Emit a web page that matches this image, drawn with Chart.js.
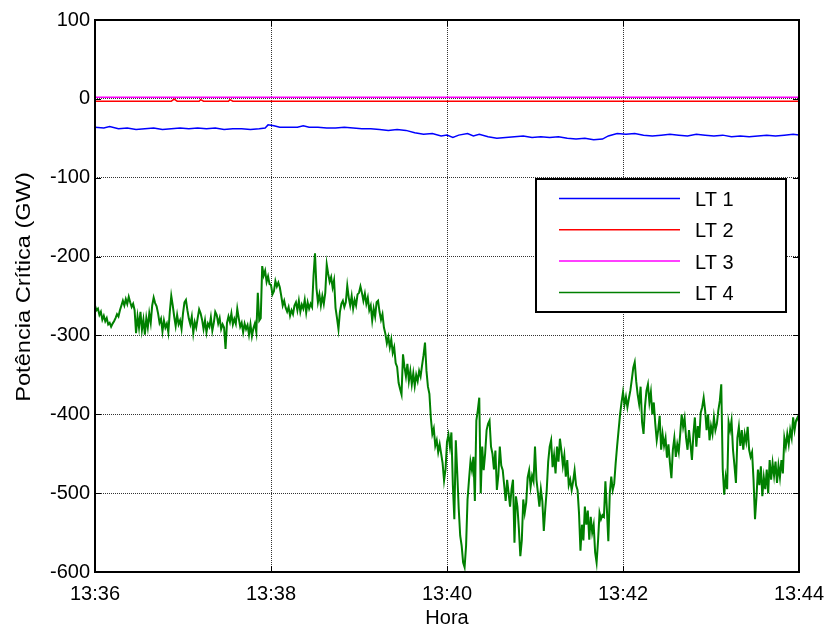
<!DOCTYPE html>
<html>
<head>
<meta charset="utf-8">
<script src="https://cdn.jsdelivr.net/npm/chart.js@4.4.1/dist/chart.umd.min.js"></script>
<style>
  html, body { margin: 0; padding: 0; background: #fff; }
  #wrap { width: 827px; height: 630px; }
</style>
</head>
<body>
<div id="wrap"><canvas id="chart" width="827" height="630"></canvas></div>
<script>
// time axis in seconds after 13:36
const tickLabels = ["13:36", "13:38", "13:40", "13:42", "13:44"];
const seriesNames = ["LT 1", "LT 2", "LT 3", "LT 4"];
const seriesColors = ["#0000ff", "#ff0000", "#ff00ff", "#008000"];

const lt1Time = [0, 6, 10, 16, 22, 28, 34, 40, 46, 52, 58, 64, 70, 76, 82, 88, 94, 100, 106, 112, 116, 118, 122, 126, 132, 138, 142, 146, 152, 158, 164, 170, 176, 182, 188, 194, 200, 206, 212, 218, 224, 230, 236, 240, 244, 248, 254, 258, 262, 268, 274, 280, 286, 292, 298, 304, 310, 316, 322, 328, 334, 340, 346, 350, 356, 362, 368, 374, 380, 386, 392, 398, 404, 410, 416, 422, 428, 434, 440, 446, 452, 458, 464, 470, 476, 480];
const lt1Val = [-36, -37, -35, -38, -37, -39, -38, -37, -39, -38, -37, -38, -37, -38, -37, -39, -38, -38, -39, -38, -37, -33, -34, -36, -36, -36, -34, -36, -36, -37, -37, -36, -37, -38, -38, -39, -40, -39, -40, -43, -45, -44, -47, -46, -49, -46, -44, -47, -45, -48, -50, -49, -48, -47, -49, -48, -49, -48, -50, -51, -50, -52, -51, -47, -44, -45, -44, -46, -47, -46, -45, -46, -47, -45, -46, -47, -46, -48, -47, -48, -47, -46, -47, -46, -45, -46];

const lt2Time = [0, 52, 54, 56, 71, 72, 74, 91, 92, 94, 480];
const lt2Val = [-3, -3, -0.5, -3, -3, -1, -3, -3, -1, -3, -3];

const lt3Time = [0, 480];
const lt3Val = [2, 2];

// LT 4, one value per second from 13:36:00 to 13:44:00
const lt4Val = [
  -262, -268, -266, -274, -270, -280, -275, -282, -278, -286,
  -284, -289, -285, -282, -278, -273, -276, -268, -262, -256,
  -262, -254, -260, -251, -258, -264, -260, -268, -297, -276,
  -290, -270, -293, -280, -299, -278, -290, -272, -284, -262,
  -252, -259, -263, -272, -284, -279, -295, -281, -290, -285,
  -296, -270, -250, -262, -276, -288, -274, -286, -281, -292,
  -272, -258, -255, -268, -279, -286, -276, -297, -283, -290,
  -278, -267, -272, -280, -292, -281, -296, -285, -289, -277,
  -294, -284, -270, -274, -285, -278, -292, -286, -290, -317,
  -284, -276, -283, -272, -286, -279, -285, -266, -278, -289,
  -284, -296, -285, -292, -287, -299, -286, -301, -291, -285,
  -296, -246, -281, -278, -212, -224, -218, -232, -225, -235,
  -236, -248, -244, -231, -238, -233, -239, -250, -262, -256,
  -265, -270, -264, -275, -268, -273, -262, -258, -268, -256,
  -270, -261, -266, -255, -271, -258, -266, -260, -264, -224,
  -196, -240, -258, -248, -262, -250, -260, -246, -210, -222,
  -232, -226, -239, -230, -265, -278, -292, -270, -260, -256,
  -264, -258, -237, -252, -262, -250, -266, -255, -262, -248,
  -246, -238, -246, -256, -247, -260, -252, -268, -262, -281,
  -266, -276, -258, -256, -270, -280, -273, -290, -298, -310,
  -302, -315, -305, -322, -315, -335, -340, -360, -368, -375,
  -324, -340, -352, -336, -358, -345, -362, -348, -364, -350,
  -358, -345, -352, -338, -325, -309, -345, -365, -374, -405,
  -425, -418, -440, -433, -448, -438, -450, -462, -484, -470,
  -435, -426, -441, -423, -490, -533, -433, -475, -520, -554,
  -567, -588, -594, -567, -508, -483, -460, -471, -454, -510,
  -408, -395, -379, -500, -441, -471, -450, -420, -412, -408,
  -441, -450, -470, -446, -496, -478, -441, -465, -471, -490,
  -510, -483, -500, -517, -495, -483, -563, -504, -517, -545,
  -580, -560, -508, -525, -512, -480, -471, -492, -478, -485,
  -441, -483, -500, -517, -495, -510, -548, -520, -496, -460,
  -441, -433, -467, -452, -475, -441, -460, -431, -446, -465,
  -452, -479, -458, -490, -483, -496, -485, -471, -490, -496,
  -525, -573, -540, -560, -517, -540, -522, -559, -530, -550,
  -540, -575, -588, -560, -525, -533, -528, -530, -485, -520,
  -561, -500, -479, -496, -488, -462, -440, -420, -400, -385,
  -372, -388, -378, -391, -380, -370, -356, -341, -334, -358,
  -375, -387, -365, -410, -425, -390, -370, -362, -385, -372,
  -400, -385, -412, -433, -420, -402, -445, -425, -440, -430,
  -455, -438, -462, -481, -445, -430, -454, -438, -448, -425,
  -400, -416, -405, -430, -445, -420, -438, -458, -425, -404,
  -441, -415, -430, -398, -391, -379, -395, -420, -400, -433,
  -415, -425, -404, -420, -412, -395, -383, -362, -470, -502,
  -480, -495, -410, -420, -408, -445, -465, -487, -430, -416,
  -440, -420, -445, -425, -435, -416, -445, -454, -448, -483,
  -533, -505, -470, -490, -466, -504, -480, -495, -470, -500,
  -458, -483, -462, -478, -460, -487, -465, -480, -458, -475,
  -430, -441, -425, -438, -420, -430, -404, -420, -408, -404,
  -410
];
const lt4Step = 1;

function pairs(t, v) { return v.map((y, i) => ({ x: t[i], y: y })); }
const lt4Pts = lt4Val.map((y, i) => ({ x: i * lt4Step, y: y }));

const FONT = "'Liberation Sans', Arial, sans-serif";
const yTitle = "Potência Crítica (GW)";

// frame, inward ticks, y title and legend box like the original figure
const framePlugin = {
  id: "frame",
  afterDatasetsDraw(chart) {
    const { ctx, chartArea: a, scales } = chart;
    ctx.save();
    ctx.strokeStyle = "#000";
    ctx.lineWidth = 1;
    ctx.beginPath();
    scales.x.ticks.forEach(t => {
      const px = Math.round(scales.x.getPixelForValue(t.value)) + 0.5;
      ctx.moveTo(px, a.bottom); ctx.lineTo(px, a.bottom - 6);
      ctx.moveTo(px, a.top); ctx.lineTo(px, a.top + 6);
    });
    scales.y.ticks.forEach(t => {
      const py = Math.round(scales.y.getPixelForValue(t.value)) + 0.5;
      ctx.moveTo(a.left, py); ctx.lineTo(a.left + 6, py);
      ctx.moveTo(a.right, py); ctx.lineTo(a.right - 6, py);
    });
    ctx.stroke();
    ctx.lineWidth = 2;
    ctx.strokeRect(a.left, a.top, a.right - a.left, a.bottom - a.top);

    // y axis title (slightly stretched along its length, as in the source image)
    ctx.save();
    ctx.translate(24, 287);
    ctx.rotate(-Math.PI / 2);
    ctx.scale(1.18, 1);
    ctx.font = "20px " + FONT;
    ctx.fillStyle = "#000";
    ctx.textAlign = "center";
    ctx.textBaseline = "middle";
    ctx.fillText(yTitle, 0, 0);
    ctx.restore();

    // legend
    const bx = 536, by = 179, bw = 250, bh = 133;
    ctx.fillStyle = "#fff";
    ctx.fillRect(bx, by, bw, bh);
    ctx.lineWidth = 2;
    ctx.strokeStyle = "#000";
    ctx.strokeRect(bx, by, bw, bh);
    ctx.font = "20px " + FONT;
    ctx.textBaseline = "middle";
    ctx.textAlign = "left";
    chart.data.datasets.forEach((ds, i) => {
      const ly = by + 19.5 + i * 31.3;
      ctx.strokeStyle = ds.borderColor;
      ctx.lineWidth = 1.5;
      ctx.beginPath();
      ctx.moveTo(bx + 23, ly); ctx.lineTo(bx + 144, ly);
      ctx.stroke();
      ctx.fillStyle = "#000";
      ctx.fillText(ds.label, bx + 159, ly + 2);
    });
    ctx.restore();
  }
};

const ctx = document.getElementById("chart").getContext("2d");
new Chart(ctx, {
  type: "line",
  data: {
    datasets: [
      { label: seriesNames[0], data: pairs(lt1Time, lt1Val), borderColor: seriesColors[0], borderWidth: 1.5 },
      { label: seriesNames[1], data: pairs(lt2Time, lt2Val), borderColor: seriesColors[1], borderWidth: 1.5 },
      { label: seriesNames[2], data: pairs(lt3Time, lt3Val), borderColor: seriesColors[2], borderWidth: 1.5 },
      { label: seriesNames[3], data: lt4Pts, borderColor: seriesColors[3], borderWidth: 2 }
    ]
  },
  options: {
    responsive: false,
    animation: false,
    events: [],
    elements: { point: { radius: 0 }, line: { tension: 0 } },
    layout: { padding: { left: 0, right: 28, top: 20, bottom: 0 } },
    plugins: { legend: { display: false }, tooltip: { enabled: false } },
    scales: {
      x: {
        type: "linear",
        min: 0,
        max: 480,
        afterFit: s => { s.height = 58; s.paddingLeft = 0; s.paddingRight = 0; },
        afterBuildTicks: s => { s.ticks = tickLabels.map((_, i) => ({ value: i * 120 })); },
        ticks: {
          callback: (v) => tickLabels[Math.round(v / 120)],
          color: "#000",
          font: { family: FONT, size: 20 },
          padding: 10,
          maxRotation: 0,
          autoSkip: false
        },
        grid: { color: "#333", lineWidth: 1, drawTicks: false, borderDash: [1, 1] },
        border: { display: false, dash: [1, 1] },
        title: { display: true, text: "Hora", color: "#000", font: { family: FONT, size: 20 }, padding: 0 }
      },
      y: {
        min: -600,
        max: 100,
        afterFit: s => { s.width = 95; },
        ticks: {
          stepSize: 100,
          color: "#000",
          font: { family: FONT, size: 20 },
          padding: 5
        },
        grid: { color: "#333", lineWidth: 1, drawTicks: false, borderDash: [1, 1] },
        border: { display: false, dash: [1, 1] }
      }
    }
  },
  plugins: [framePlugin]
});
</script>
</body>
</html>
